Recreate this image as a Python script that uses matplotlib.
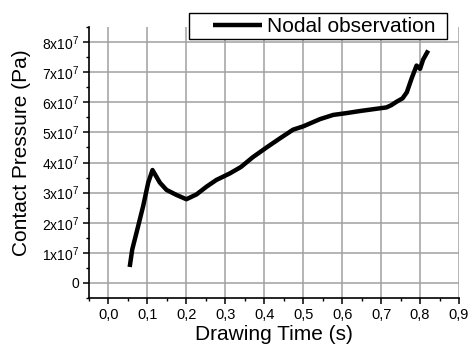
import matplotlib
matplotlib.use("Agg")
import matplotlib.pyplot as plt
from matplotlib.ticker import MultipleLocator
from matplotlib.patches import Rectangle

plt.rcParams['font.family'] = ['Liberation Sans', 'DejaVu Sans']
plt.rcParams['mathtext.fontset'] = 'custom'
plt.rcParams['mathtext.rm'] = 'Liberation Sans'
plt.rcParams['mathtext.it'] = 'Liberation Sans'

time_s = [0.0545, 0.061, 0.072, 0.089, 0.102, 0.113, 0.132, 0.149, 0.175, 0.200,
          0.226, 0.252, 0.277, 0.312, 0.340, 0.371, 0.406, 0.440, 0.474, 0.500,
          0.543, 0.577, 0.611, 0.646, 0.680, 0.714, 0.727, 0.740, 0.755, 0.766,
          0.778, 0.791, 0.800, 0.808, 0.821]
pressure_1e7 = [0.53, 1.11, 1.67, 2.55, 3.33, 3.75, 3.33, 3.09, 2.92, 2.78,
                2.94, 3.20, 3.42, 3.64, 3.85, 4.18, 4.50, 4.80, 5.09, 5.20,
                5.44, 5.58, 5.64, 5.71, 5.77, 5.83, 5.91, 6.02, 6.13, 6.33,
                6.78, 7.22, 7.11, 7.42, 7.72]
pressure = [v * 1e7 for v in pressure_1e7]

x_ticks = [0.0, 0.1, 0.2, 0.3, 0.4, 0.5, 0.6, 0.7, 0.8, 0.9]
x_tick_labels = ['0,0', '0,1', '0,2', '0,3', '0,4', '0,5', '0,6', '0,7', '0,8', '0,9']
y_ticks = [0, 1e7, 2e7, 3e7, 4e7, 5e7, 6e7, 7e7, 8e7]
y_tick_labels = ['0'] + [r'$\mathregular{%dx10^7}$' % i for i in range(1, 9)]

W, H = 470, 346
fig = plt.figure(figsize=(W / 100, H / 100), dpi=100)
ax = fig.add_axes([89 / W, 1 - 298 / H, (459 - 89) / W, (298 - 27) / H])

ax.plot(time_s, pressure, color='black', lw=3.2, solid_capstyle='butt',
        solid_joinstyle='round', label='Nodal observation')

ax.set_xlim(-0.05, 0.9)
ax.set_ylim(-0.5e7, 8.5e7)
ax.set_xticks(x_ticks)
ax.set_xticklabels(x_tick_labels, fontsize=10.5)
ax.set_yticks(y_ticks)
ax.set_yticklabels(y_tick_labels, fontsize=10)
ax.xaxis.set_minor_locator(MultipleLocator(0.05))
ax.yaxis.set_minor_locator(MultipleLocator(0.5e7))

ax.grid(True, which='major', color='#a0a0a0', lw=1.1)
ax.set_axisbelow(True)
for s in ['top', 'right']:
    ax.spines[s].set_visible(False)
for s in ['left', 'bottom']:
    ax.spines[s].set_linewidth(1.2)
ax.tick_params(which='major', direction='out', length=4, width=1.1, pad=3)
ax.tick_params(which='minor', direction='out', length=2.5, width=1.0)

ax.set_xlabel('Drawing Time (s)', fontsize=15)
ax.xaxis.set_label_coords(0.5, (298 - 325) / 271)
ax.set_ylabel('Contact Pressure (Pa)', fontsize=15)
ax.yaxis.set_label_coords((31 - 89) / 370, (298 - 153) / 271)

# legend frame
fig.patches.append(Rectangle((189 / W, 1 - 39 / H), (447 - 189) / W, 26 / H,
                             transform=fig.transFigure, fill=True, facecolor='white',
                             edgecolor='black', lw=1.0, zorder=5))
leg = fig.legend(loc='center left', bbox_to_anchor=(213 / W, 1 - 26.5 / H),
                 fontsize=15, frameon=False, borderpad=0, borderaxespad=0,
                 handlelength=49 / 20.83, handletextpad=5 / 20.83)
leg.set_zorder(6)

fig.savefig('out.png', dpi=100)
